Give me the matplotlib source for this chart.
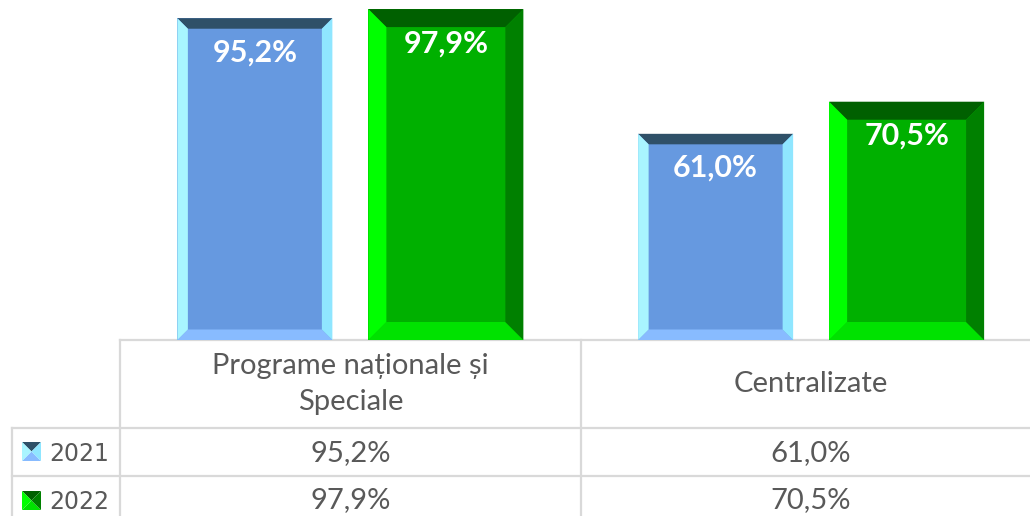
import matplotlib
matplotlib.use("Agg")
import matplotlib.pyplot as plt
from matplotlib.patches import Polygon
from matplotlib.lines import Line2D
from matplotlib.transforms import blended_transform_factory

# ---- data ----
categories = ["Programe naționale și\nSpeciale", "Centralizate"]
series_names = ["2021", "2022"]
values_2021 = [95.2, 61.0]
values_2022 = [97.9, 70.5]
labels_2021 = ["95,2%", "61,0%"]
labels_2022 = ["97,9%", "70,5%"]

FONT = ["Lato", "DejaVu Sans"]
plt.rcParams["font.family"] = FONT

W, H = 1030, 516
fig = plt.figure(figsize=(W / 100, H / 100), dpi=100)

# overlay axes in pixel coords for the table
tax = fig.add_axes([0, 0, 1, 1])
tax.set_xlim(0, W)
tax.set_ylim(H, 0)
tax.axis("off")

ax_left, ax_right, ax_bottom, ax_top = 120, 1041.5, 340, 2
ax = fig.add_axes([ax_left / W, (H - ax_bottom) / H,
                   (ax_right - ax_left) / W, (ax_bottom - ax_top) / H])
ax.set_xlim(-0.5, 1.5)
ax.set_ylim(0, 100)
ax.axis("off")

px_x = (ax_right - ax_left) / 2.0      # pixels per category unit
px_y = (ax_bottom - ax_top) / 100.0    # pixels per value unit

bar_w = 155 / px_x
offset = 95.5 / px_x

styles = {
    "2021": dict(face="#6699e0", top="#2f5068", left="#a9f5ff",
                 right="#8fe6ff", bottom="#88bbff", bevel=10.5),
    "2022": dict(face="#00b000", top="#006000", left="#00ff00",
                 right="#008000", bottom="#00e200", bevel=18),
}

xs = range(len(categories))
for name, vals, labs, sign in [("2021", values_2021, labels_2021, -1),
                               ("2022", values_2022, labels_2022, 1)]:
    st = styles[name]
    bars = ax.bar([x + sign * offset for x in xs], vals, width=bar_w,
                  color=st["face"], linewidth=0, zorder=2)
    bx = st["bevel"] / px_x
    by = st["bevel"] / px_y
    for b, lab in zip(bars, labs):
        x0 = b.get_x()
        x1 = x0 + b.get_width()
        y1 = b.get_height()
        polys = [
            ([(x0, y1), (x1, y1), (x1 - bx, y1 - by), (x0 + bx, y1 - by)], st["top"]),
            ([(x0, 0), (x1, 0), (x1 - bx, by), (x0 + bx, by)], st["bottom"]),
            ([(x0, 0), (x0 + bx, by), (x0 + bx, y1 - by), (x0, y1)], st["left"]),
            ([(x1, 0), (x1 - bx, by), (x1 - bx, y1 - by), (x1, y1)], st["right"]),
        ]
        for pts, c in polys:
            ax.add_patch(Polygon(pts, closed=True, facecolor=c,
                                 edgecolor="none", zorder=3))
        ax.text((x0 + x1) / 2, y1 - 34 / px_y, lab, ha="center", va="center",
                color="white", fontsize=22, fontweight="bold", zorder=4)

# ---- table ----
grid = "#d9d9d9"
lw = 1.6
row_top, row1, row2 = 340, 428, 476
tax.add_line(Line2D([120, W], [row_top, row_top], color=grid, lw=lw))
tax.add_line(Line2D([12, W], [row1, row1], color=grid, lw=lw))
tax.add_line(Line2D([12, W], [row2, row2], color=grid, lw=lw))
tax.add_line(Line2D([12, 12], [row1, H], color=grid, lw=lw))
tax.add_line(Line2D([120, 120], [row_top, H], color=grid, lw=lw))
tax.add_line(Line2D([580.5, 580.5], [row_top, H], color=grid, lw=lw))

tr = blended_transform_factory(ax.transData, tax.transData)
txt_col = "#595959"
for i, cat in enumerate(categories):
    tax.text(i, (row_top + row1) / 2, cat, transform=tr, ha="center",
             va="center", fontsize=21, color=txt_col, linespacing=1.5)
    tax.text(i, (row1 + row2) / 2 + 1, labels_2021[i], transform=tr,
             ha="center", va="center", fontsize=21, color=txt_col)
    tax.text(i, (row2 + H) / 2 + 4, labels_2022[i], transform=tr,
             ha="center", va="center", fontsize=21, color=txt_col)

# legend keys in the row headers
def key(x0, y0, s, st):
    cx, cy = x0 + s / 2, y0 + s / 2
    tl, tr_, br, bl = (x0, y0), (x0 + s, y0), (x0 + s, y0 + s), (x0, y0 + s)
    for pts, c in [([tl, tr_, (cx, cy)], st["top"]),
                   ([bl, br, (cx, cy)], st["bottom"]),
                   ([tl, bl, (cx, cy)], st["left"]),
                   ([tr_, br, (cx, cy)], st["right"])]:
        tax.add_patch(Polygon(pts, closed=True, facecolor=c, edgecolor="none"))

key(22, 442, 19, styles["2021"])
key(22, 491, 19, styles["2022"])
tax.text(49, (row1 + row2) / 2 + 2, series_names[0], ha="left", va="center",
         fontsize=17, color=txt_col, family=["DejaVu Sans"])
tax.text(49, (row2 + H) / 2 + 6, series_names[1], ha="left", va="center",
         fontsize=17, color=txt_col, family=["DejaVu Sans"])

fig.savefig("out.png", dpi=100)
